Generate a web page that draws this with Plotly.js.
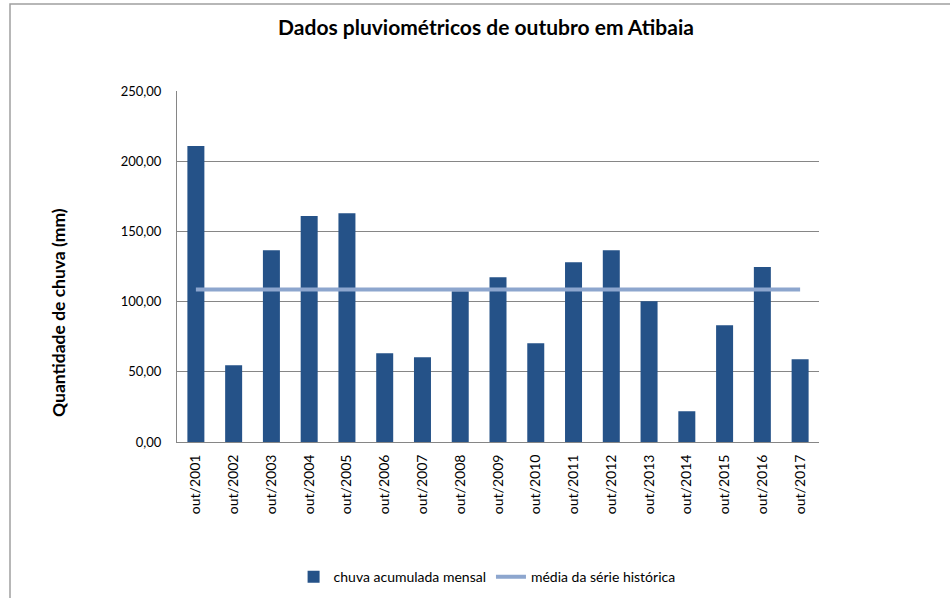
<!DOCTYPE html>
<html>
<head>
<meta charset="utf-8">
<script src="https://cdn.plot.ly/plotly-3.0.1.min.js"></script>
<style>
html,body{margin:0;padding:0;background:#fff;}
#chart{width:950px;height:598px;}
</style>
</head>
<body>
<div id="chart"></div>
<script>
const categories = ["out/2001","out/2002","out/2003","out/2004","out/2005","out/2006","out/2007","out/2008","out/2009","out/2010","out/2011","out/2012","out/2013","out/2014","out/2015","out/2016","out/2017"];
const chuvaMensal = [210.8,54.7,136.6,160.9,163.0,63.2,60.4,107.4,117.4,70.4,128.1,136.6,100.3,21.9,83.2,124.6,59.0];
const mediaHistorica = [108.6,108.6,108.6,108.6,108.6,108.6,108.6,108.6,108.6,108.6,108.6,108.6,108.6,108.6,108.6,108.6,108.6];
const yTicks = [0,50,100,150,200,250];

const FONT = "Lato, 'Open Sans', sans-serif";

const traces = [
  {
    type: "bar",
    name: "chuva acumulada mensal",
    x: categories,
    y: chuvaMensal,
    marker: {color: "#255288"},
    hoverinfo: "x+y"
  },
  {
    type: "scatter",
    mode: "lines",
    name: "média da série histórica",
    x: categories,
    y: mediaHistorica,
    line: {color: "#8DA6CE", width: 4}
  }
];

const layout = {
  width: 950,
  height: 598,
  margin: {l: 177, r: 131, t: 91, b: 156, autoexpand: false},
  paper_bgcolor: "#ffffff",
  plot_bgcolor: "#ffffff",
  separators: ",.",
  font: {family: FONT, color: "#000000", size: 12},
  title: {
    text: "<b>Dados pluviométricos de outubro em Atibaia</b>",
    font: {family: FONT, size: 21, color: "#000"},
    x: 486/950, xanchor: "center", xref: "container",
    y: 1 - 28/598, yref: "container", yanchor: "middle"
  },
  bargap: 0.55,
  showlegend: true,
  legend: {
    orientation: "h",
    x: 0.483, xanchor: "center",
    y: -0.385, yanchor: "middle",
    font: {family: FONT, size: 14, color: "#000"},
    traceorder: "normal"
  },
  xaxis: {
    type: "category",
    tickangle: -90,
    tickfont: {family: FONT, size: 14, color: "#000"},
    showline: true,
    linecolor: "#868686",
    linewidth: 1,
    ticks: "",
    ticklabelstandoff: 6,
    showgrid: false,
    automargin: false,
    fixedrange: true
  },
  yaxis: {
    range: [0, 250],
    tickvals: yTicks,
    tickformat: ".2f",
    tickfont: {family: FONT, size: 13, color: "#000"},
    showline: true,
    linecolor: "#868686",
    linewidth: 1,
    gridcolor: "#868686",
    gridwidth: 1,
    zeroline: false,
    ticks: "",
    ticklabelstandoff: 12,
    automargin: false,
    fixedrange: true
  },
  annotations: [
    {
      text: "<b>Quantidade de chuva (mm)</b>",
      textangle: -90,
      xref: "paper", yref: "paper",
      x: (58 - 177) / 642, y: (442 - 313) / 351,
      xanchor: "center", yanchor: "middle",
      showarrow: false,
      font: {family: FONT, size: 17.5, color: "#000"}
    }
  ],
  shapes: [
    {
      type: "rect", xref: "paper", yref: "paper",
      x0: (10 - 177) / 642, x1: (960 - 177) / 642,
      y0: (442 - 610) / 351, y1: (442 - 4) / 351,
      line: {color: "#A0A0A0", width: 1.5},
      fillcolor: "rgba(0,0,0,0)",
      layer: "below"
    }
  ]
};

Plotly.newPlot("chart", traces, layout, {displayModeBar: false, staticPlot: true});
</script>
</body>
</html>
